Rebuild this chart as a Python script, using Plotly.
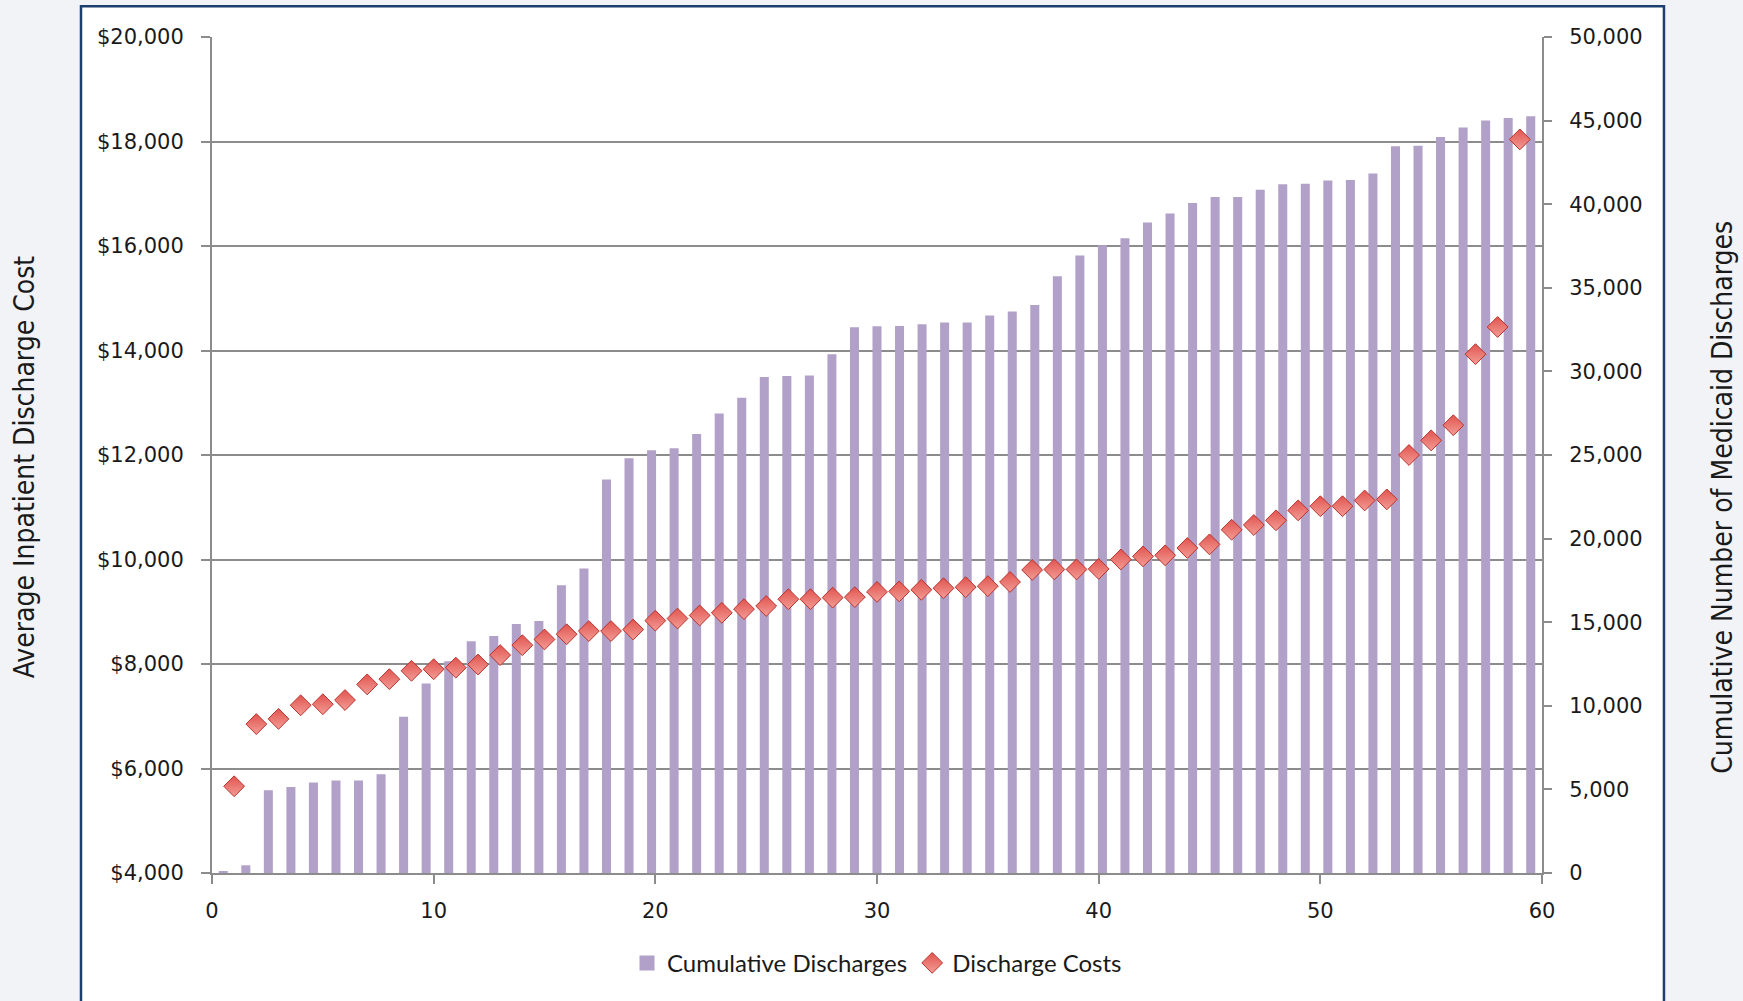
import plotly.graph_objects as go

# Cumulative Medicaid discharges per hospital (ranked), right axis
hospital_rank = list(range(1, 60))
cumulative_discharges = [
    80, 460, 4950, 5140, 5420, 5530, 5530, 5900, 9350, 11330,
    12660, 13860, 14180, 14890, 15070, 17210, 18210, 23540, 24800, 25280,
    25400, 26260, 27480, 28430, 29670, 29720, 29750, 31020, 32640, 32700,
    32720, 32820, 32920, 32920, 33340, 33580, 33970, 35690, 36930, 37540,
    37960, 38900, 39440, 40070, 40430, 40430, 40870, 41190, 41230, 41410,
    41450, 41830, 43460, 43500, 44020, 44580, 45000, 45160, 45260,
]

# Average inpatient discharge cost per hospital, left axis
discharge_costs = [
    5660, 6850, 6950, 7210, 7230, 7310, 7610, 7710, 7870, 7900,
    7930, 7990, 8170, 8360, 8470, 8570, 8630, 8630, 8660, 8830,
    8870, 8930, 8980, 9050, 9110, 9240, 9240, 9270, 9280, 9380,
    9390, 9420, 9450, 9470, 9490, 9570, 9800, 9810, 9810, 9820,
    10000, 10060, 10080, 10220, 10290, 10570, 10660, 10750, 10940, 11020,
    11020, 11130, 11150, 12000, 12280, 12570, 13930, 14450, 18040,
]

cost_ticks = list(range(4000, 20001, 2000))
cost_tick_labels = [f"${v:,}" for v in cost_ticks]
count_ticks = list(range(0, 50001, 5000))
count_tick_labels = [f"{v:,}" for v in count_ticks]

BAR_COLOR = "#b1a0c7"
TICK_FONT = dict(family="DejaVu Sans", size=21, color="#1a1a1a")
TITLE_FAMILY = ("Liberation Sans Narrow, Arial Narrow, DejaVu Sans Condensed, "
                "Roboto Condensed, Roboto, sans-serif")
AXIS_GRAY = "#8c8c8c"

fig = go.Figure()

fig.add_trace(go.Bar(
    x=hospital_rank,
    y=cumulative_discharges,
    name="Cumulative Discharges",
    marker=dict(color=BAR_COLOR, line=dict(width=0)),
    width=0.4,
    xaxis="x",
    yaxis="y",
    showlegend=False,
))

# Legend entry for the bars, drawn as a filled square swatch
fig.add_trace(go.Scatter(
    x=[None],
    y=[None],
    name="Cumulative Discharges",
    mode="markers",
    marker=dict(symbol="square", size=15, color=BAR_COLOR),
    xaxis="x",
    yaxis="y",
))

fig.add_trace(go.Scatter(
    x=hospital_rank,
    y=discharge_costs,
    name="Discharge Costs",
    mode="markers",
    marker=dict(
        symbol="diamond",
        size=16,
        color="#e2544f",
        gradient=dict(type="vertical", color="#f29c95"),
        line=dict(color="#b8322d", width=1),
    ),
    xaxis="x2",
    yaxis="y2",
))

fig.update_layout(
    width=1743,
    height=1001,
    margin=dict(l=212, r=201, t=37, b=128),
    paper_bgcolor="#f1f3f6",
    plot_bgcolor="rgba(0,0,0,0)",
    showlegend=True,
    bargap=0.6,
    legend=dict(
        orientation="h",
        x=0.5, xanchor="center",
        y=-0.108, yanchor="middle",
        font=dict(family="Lato", size=24, color="#1a1a1a"),
        bgcolor="rgba(0,0,0,0)",
        itemwidth=30,
    ),
    # Category positions for the bars
    xaxis=dict(
        range=[0.5, 59.5],
        visible=False,
        showgrid=False,
        zeroline=False,
    ),
    # Count axis on the right
    yaxis=dict(
        range=[0, 50000],
        side="right",
        tickvals=count_ticks,
        ticktext=count_tick_labels,
        ticks="outside",
        ticklen=8,
        tickcolor=AXIS_GRAY,
        tickwidth=1.5,
        showline=True,
        linecolor=AXIS_GRAY,
        linewidth=2,
        showgrid=False,
        zeroline=False,
        tickfont=TICK_FONT,
        ticklabelstandoff=13,
    ),
    # Rank axis along the bottom
    xaxis2=dict(
        overlaying="x",
        anchor="y2",
        side="bottom",
        range=[0, 60],
        tickvals=[0, 10, 20, 30, 40, 50, 60],
        ticks="outside",
        ticklen=9,
        tickcolor=AXIS_GRAY,
        tickwidth=1.5,
        showline=True,
        linecolor=AXIS_GRAY,
        linewidth=2,
        showgrid=False,
        zeroline=False,
        tickfont=TICK_FONT,
        ticklabelstandoff=9,
    ),
    # Cost axis on the left with gridlines
    yaxis2=dict(
        overlaying="y",
        anchor="x2",
        side="left",
        range=[4000, 20000],
        tickvals=cost_ticks,
        ticktext=cost_tick_labels,
        ticks="outside",
        ticklen=9,
        tickcolor=AXIS_GRAY,
        tickwidth=1.5,
        showline=True,
        linecolor=AXIS_GRAY,
        linewidth=2,
        showgrid=True,
        gridcolor=AXIS_GRAY,
        gridwidth=1.5,
        zeroline=False,
        tickfont=TICK_FONT,
        ticklabelstandoff=13,
    ),
    shapes=[
        dict(
            type="rect", xref="paper", yref="paper",
            x0=-0.0985, x1=1.0917, y0=-0.2, y1=1.0367,
            fillcolor="white",
            line=dict(color="#1d3f6e", width=2.5),
            layer="below",
        ),
    ],
    annotations=[
        dict(
            text="Average Inpatient Discharge Cost",
            xref="paper", yref="paper",
            x=-0.1414, y=0.4865,
            xanchor="center", yanchor="middle",
            textangle=-90, showarrow=False,
            font=dict(family=TITLE_FAMILY, size=28, color="#1a1a1a"),
        ),
        dict(
            text="Cumulative Number of Medicaid Discharges",
            xref="paper", yref="paper",
            x=1.1361, y=0.4488,
            xanchor="center", yanchor="middle",
            textangle=-90, showarrow=False,
            font=dict(family=TITLE_FAMILY, size=28, color="#1a1a1a"),
        ),
    ],
)

fig.write_html("out.html")
